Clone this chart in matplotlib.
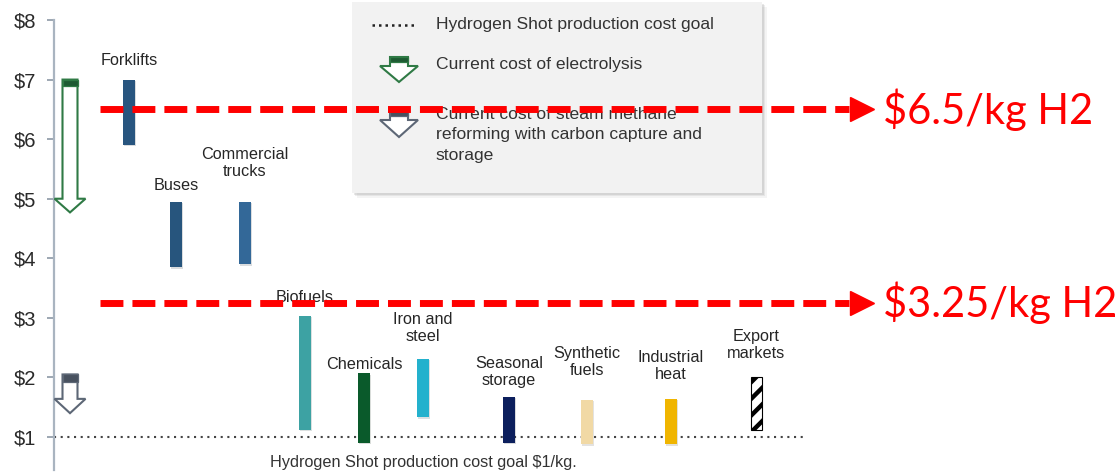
import matplotlib.pyplot as plt
from matplotlib.patches import Polygon, Rectangle
from matplotlib.transforms import Affine2D
import matplotlib.patheffects as pe

# Hydrogen cost ranges by end use ($/kg)
categories = ["Forklifts", "Buses", "Commercial\ntrucks", "Biofuels", "Chemicals",
              "Iron and\nsteel", "Seasonal\nstorage", "Synthetic\nfuels",
              "Industrial\nheat", "Export\nmarkets"]
cost_low = [5.9, 3.85, 3.9, 1.12, 0.9, 1.33, 0.9, 0.88, 0.88, 1.12]
cost_high = [7.0, 4.95, 4.95, 3.03, 2.07, 2.31, 1.67, 1.62, 1.64, 2.0]

electrolysis_cost = [7.0, 5.0]   # top, bottom of arrow body
smr_ccs_cost = [2.05, 1.64]
goal_cost = 1.0
targets = [6.5, 3.25]
target_labels = ["$6.5/kg H2", "$3.25/kg H2"]
y_ticks = [1, 2, 3, 4, 5, 6, 7, 8]
y_tick_labels = ["$" + str(v) for v in y_ticks]

# layout (x in pixels, label heights in $)
x_pos = [129, 176, 245, 305, 364, 423, 509, 587, 671, 756]
label_y = [7.32, 5.23, 5.6, 3.35, 2.22, 2.83, 2.09, 2.26, 2.19, 2.54]
bar_colors = ["#28557f", "#27557d", "#336898", "#3da2a3", "#0a5a2b",
              "#23b1cd", "#0c1f5d", "#f1d9a5", "#f0b500", "white"]

W, H = 1120, 475
fig = plt.figure(figsize=(W / 100, H / 100), dpi=100)
ax = fig.add_axes([54 / W, 5 / H, 1 - 54 / W, 450 / H])
ax.set_facecolor("none")
# pixel coordinates (origin top-left)
px = Affine2D().scale(1 / W, -1 / H).translate(0, 1) + fig.transFigure

label_font = "Liberation Sans"

# legend panel
for off, a in [(5, 0.10), (3, 0.16), (1.5, 0.22)]:
    ax.add_patch(Rectangle((352 + off, 2 + off), 410, 191, transform=px,
                           facecolor="#9a9a9a", edgecolor="none", alpha=a,
                           clip_on=False, zorder=1))
ax.add_patch(Rectangle((352, 2), 410, 191, transform=px, facecolor="#f2f2f2",
                       edgecolor="none", clip_on=False, zorder=1.1))


def down_arrow(xc, top, base, tip, cap, body_w, head_w, edge, cap_color,
               lw=1.5, transform=None):
    kw = dict(clip_on=False, zorder=4)
    if transform is not None:
        kw["transform"] = transform
    verts = [(xc - body_w / 2, top), (xc + body_w / 2, top),
             (xc + body_w / 2, base), (xc + head_w / 2, base), (xc, tip),
             (xc - head_w / 2, base), (xc - body_w / 2, base)]
    ax.add_patch(Polygon(verts, closed=True, facecolor="white", edgecolor=edge,
                         lw=lw, joinstyle="miter", **kw))
    ax.add_patch(Rectangle((xc - body_w / 2, cap), body_w, top - cap,
                           facecolor=cap_color, edgecolor=edge, lw=lw * 0.6, **kw))


# legend entries
ax.plot([372, 417], [25, 25], transform=px, color="#222222", lw=1.8,
        ls=(0, (1, 1.6)), clip_on=False, zorder=2)
down_arrow(399, 57, 66, 82, 62, 18, 38, "#2f7a45", "#1d5a32", transform=px)
down_arrow(399, 111, 120, 137, 116, 18, 38, "#5d6776", "#48515f", transform=px)
leg_kw = dict(transform=px, fontsize=12.6, color="#333333", va="center",
              ha="left", family=label_font, zorder=2)
ax.text(436, 25, "Hydrogen Shot production cost goal", **leg_kw)
ax.text(436, 65, "Current cost of electrolysis", **leg_kw)
ax.text(436, 135, "Current cost of steam methane\nreforming with carbon capture and\nstorage",
        linespacing=1.42, **leg_kw)

# cost arrows next to the axis
down_arrow(70, electrolysis_cost[0], electrolysis_cost[1], electrolysis_cost[1] - 0.23,
           electrolysis_cost[0] - 0.1, 15, 31, "#2f7a45", "#1d5a32")
down_arrow(70, smr_ccs_cost[0], smr_ccs_cost[1], smr_ccs_cost[1] - 0.24,
           smr_ccs_cost[0] - 0.12, 15, 31, "#5d6776", "#48515f")

# goal line
ax.hlines(goal_cost, 54, 807, color="#444444", lw=1.5, ls=(0, (1, 2.2)), zorder=2)
ax.text(423, 463, "Hydrogen Shot production cost goal $1/kg.", transform=px,
        ha="center", va="center", fontsize=11.7, color="#333333", family=label_font)

# end-use bars
heights = [h - l for h, l in zip(cost_high, cost_low)]
shadow = [pe.SimplePatchShadow(offset=(1, -1), alpha=0.15), pe.Normal()]
bars = ax.bar(x_pos[:-1], heights[:-1], bottom=cost_low[:-1], width=12,
              color=bar_colors[:-1], zorder=3)
for b in bars:
    b.set_path_effects(shadow)
plt.rcParams["hatch.linewidth"] = 3.2
ax.bar(x_pos[-1], heights[-1], bottom=cost_low[-1], width=11, color="white",
       edgecolor="black", hatch="//", lw=0.8, zorder=3)

for x, y, name in zip(x_pos, label_y, categories):
    ax.text(x, y, name, ha="center", va="center", fontsize=11.7, color="#262626",
            family=label_font, linespacing=1.18, zorder=3)

# target price lines
for t, lab in zip(targets, target_labels):
    ax.hlines(t, 100, 849, color="red", lw=5, linestyles=[(0, (3.3, 1.3))], zorder=6)
    ax.plot(861.5, t, marker=">", ms=17, color="red", clip_on=False, zorder=6)
    ax.text(883, t, lab, color="red", fontsize=30, family="Lato", va="center",
            ha="left", clip_on=False, zorder=6)

# axis styling
ax.set_xlim(54, 1120)
ax.set_ylim(0.446, 8.0)
for s in ["top", "right", "bottom"]:
    ax.spines[s].set_visible(False)
ax.spines["left"].set_color("#a9b4c0")
ax.spines["left"].set_linewidth(1.6)
ax.set_xticks([])
ax.set_yticks(y_ticks)
ax.set_yticklabels(y_tick_labels, family=label_font, fontsize=14.5, color="#2a2a2a")
ax.tick_params(axis="y", length=5, width=1.2, color="#8c98a6", pad=8)

fig.savefig("out.png", dpi=100)
